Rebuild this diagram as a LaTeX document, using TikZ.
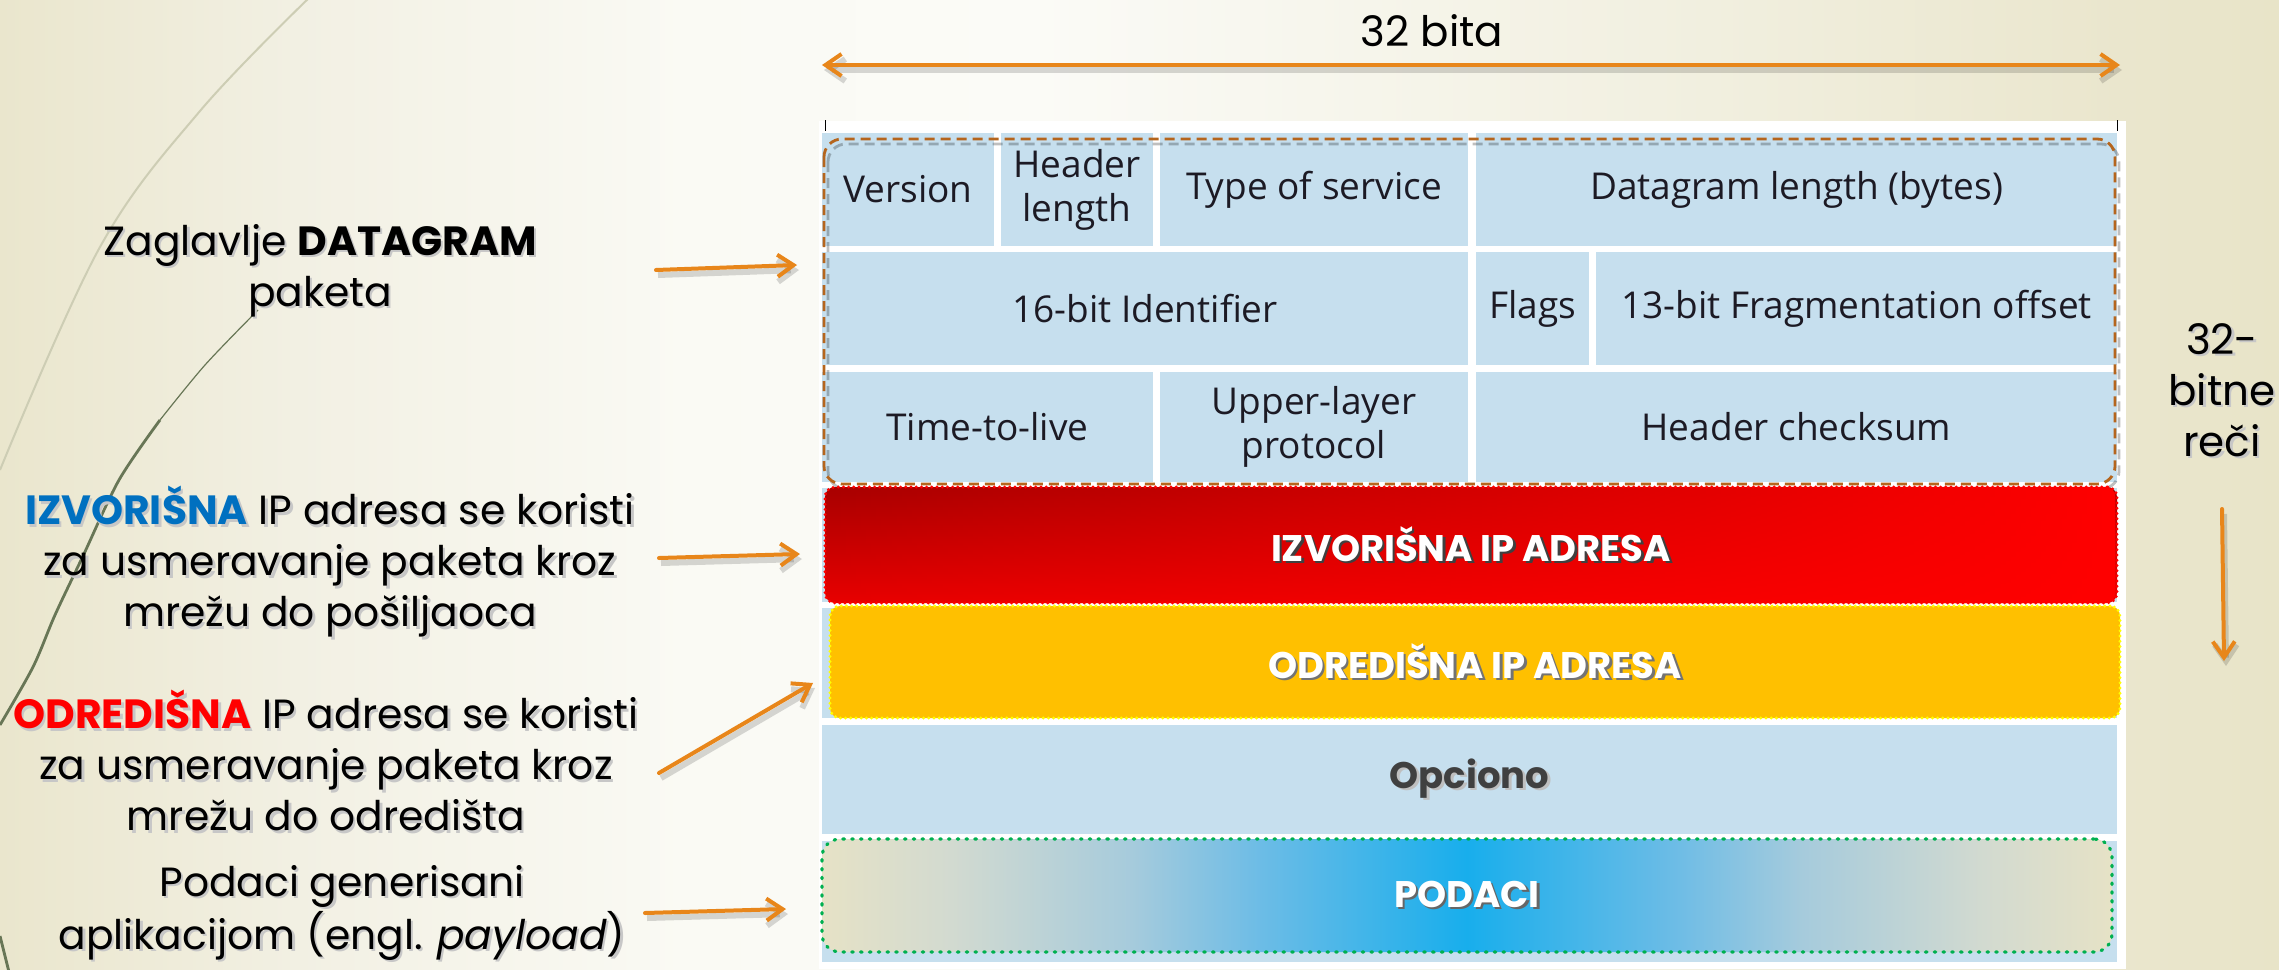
\documentclass[tikz,border=0pt]{standalone}
\usepackage{fontspec}
\setmainfont{Poppins}
\newfontfamily\cellfont{Open Sans}
\usetikzlibrary{arrows.meta,fadings}

% palette
\definecolor{bgA}{HTML}{E8E4C8}
\definecolor{bgE}{HTML}{EAE6CD}
\definecolor{bgB}{HTML}{F2F0E3}
\definecolor{bgC}{HTML}{FAFAF4}
\definecolor{bgW}{HTML}{FBFBF7}
\definecolor{bgD}{HTML}{F1EFDF}
\definecolor{cellblue}{HTML}{C6DFEE}
\definecolor{celltxt}{HTML}{1C1A24}
\definecolor{hdrdash}{HTML}{B5651D}
\definecolor{arrorange}{HTML}{E8861A}
\definecolor{redA}{HTML}{A80000}
\definecolor{redM}{HTML}{E80000}
\definecolor{redB}{HTML}{FF0000}
\definecolor{yelfill}{HTML}{FFC000}
\definecolor{yeldot}{HTML}{FFFF00}
\definecolor{greendot}{HTML}{00B050}
\definecolor{podedge}{HTML}{E6E2C6}
\definecolor{podsoft}{HTML}{D2DAD0}
\definecolor{podmid}{HTML}{A6CBDC}
\definecolor{podblue}{HTML}{6CBCE6}
\definecolor{podcore}{HTML}{18AEEC}
\definecolor{srcblue}{HTML}{0070C0}
\definecolor{dstred}{HTML}{FF0000}
\definecolor{optgray}{HTML}{404040}
\definecolor{curvedark}{HTML}{687656}
\definecolor{curvelight}{HTML}{CDCDB4}

\pgfdeclarehorizontalshading{slidebg}{100bp}{color(0bp)=(bgE); color(25bp)=(bgE);
  color(31.5bp)=(bgB); color(40bp)=(bgC); color(47.5bp)=(bgW); color(62.5bp)=(bgD);
  color(71.5bp)=(bgE); color(75bp)=(bgA); color(100bp)=(bgA)}
\pgfdeclarehorizontalshading{podshade}{100bp}{color(0bp)=(podedge); color(25bp)=(podedge);
  color(30bp)=(podsoft); color(37bp)=(podmid); color(42bp)=(podblue); color(50bp)=(podcore);
  color(58bp)=(podblue); color(63bp)=(podmid); color(70bp)=(podsoft); color(75bp)=(podedge);
  color(100bp)=(podedge)}

% coloured words; plain inside shadows
\newcommand\hl[2]{\textcolor{#1}{#2}}
\newcommand\hlplain[2]{#2}
% text with a soft offset shadow: #1 shadow colour, #2 offset, #3 text
\newcommand\shadowed[3]{\leavevmode\rlap{\kern#2\raisebox{-#2}{\let\hl\hlplain\textcolor{#1}{#3}}}#3}
\newcommand\ls[1]{\shadowed{black!22}{1.2pt}{#1}}

% a box node given by its corners (in picture units): #1 style, #2 name,
% #3 #4 top-left corner, #5 #6 bottom-right corner, #7 text
\newcommand\boxnode[7]{%
  \pgfmathsetmacro\bxw{(#5-#3)/2}%
  \pgfmathsetmacro\bxh{(#6-#4)/2}%
  \node[#1, minimum width=\bxw pt, minimum height=\bxh pt] (#2)
    at ({(#3+#5)/2},{(#4+#6)/2}) {#7};}

\tikzset{
  x=0.5pt, y=-0.5pt,
  barb/.tip={Straight Barb[length=8pt,width=11pt]},
  orangeline/.style={draw=arrorange, line width=2pt, line cap=round,
    preaction={draw=black, draw opacity=0.15, line width=3pt,
      transform canvas={shift={(1pt,-2.5pt)}}}},
  cellbox/.style={fill=cellblue, inner sep=0pt, outer sep=0pt, align=center,
    font=\cellfont\fontsize{18.5pt}{22pt}\selectfont, text=celltxt},
  lefttext/.style={align=center, font=\fontsize{20.4pt}{25.5pt}\selectfont, text=black},
  righttext/.style={align=center, font=\fontsize{21pt}{25.5pt}\selectfont, text=black},
  bandtitle/.style={inner sep=0pt, outer sep=0pt, align=center,
    font=\bfseries\fontsize{18.5pt}{22pt}\selectfont, text=white},
  dotborder/.style={line width=1.6pt, dash pattern=on 0pt off 2.6pt, line cap=round},
  hdrdashed/.style={line width=1.4pt, dash pattern=on 5pt off 3pt, rounded corners=9pt},
}

\begin{document}
\begin{tikzpicture}
\useasboundingbox (0,0) rectangle (2279,969);
% slide background
\shade[shading=slidebg] (0,0) rectangle (2279,969);

% decorative arcs on the left
\draw[curvelight, line width=1pt] plot[smooth, tension=0.6]
  coordinates {(312,-5) (200,111) (100,247) (0,470)};
\draw[curvedark, line width=0.6pt] plot[smooth]
  coordinates {(258,310) (205,365) (160,420)};
\draw[curvedark, line width=1.4pt] plot[smooth]
  coordinates {(160,420) (119,480) (83,556) (55,615) (33,667) (0,725)};
\draw[curvedark, line width=1.4pt] (0,936) -- (9,972);

% white panel with its corner ticks
\fill[white] (819,121) rectangle (2126,969);
\draw[black, line width=0.5pt] (825,120) -- (825,131);
\draw[black, line width=0.5pt] (2117,120) -- (2117,131);

% header words
\boxnode{cellbox}{ver}{822}{133}{994}{246}{Version}
\boxnode{cellbox}{hlen}{1001}{133}{1153}{246}{Header\\length}
\boxnode{cellbox}{tos}{1160}{133}{1468}{246}{Type of service}
\boxnode{cellbox}{dlen}{1476}{133}{2117}{246}{Datagram length (bytes)}
\boxnode{cellbox}{ident}{822}{252}{1468}{365}{16-bit Identifier}
\boxnode{cellbox}{flags}{1476}{252}{1589}{365}{Flags}
\boxnode{cellbox}{frag}{1596}{252}{2117}{365}{13-bit Fragmentation offset}
\boxnode{cellbox}{ttl}{822}{372}{1153}{482}{Time-to-live}
\boxnode{cellbox}{ulp}{1160}{372}{1468}{482}{Upper-layer\\protocol}
\boxnode{cellbox}{csum}{1476}{372}{2117}{482}{Header checksum}

% rows behind the coloured bands
\fill[cellblue] (822,488) rectangle (2117,602);
\fill[cellblue] (822,608) rectangle (2117,718);
\fill[cellblue] (822,841) rectangle (2117,962);

% dashed frame round the header
\draw[hdrdashed, black, draw opacity=0.25] (828,144) rectangle (2119,489);
\draw[hdrdashed, hdrdash] (824,139) rectangle (2115,484);

% source band: dark-to-bright red body, brightening towards the right
\shade[rounded corners=5pt, top color=redA, bottom color=redM]
  (825,487) rectangle (2117,603);
\fill[rounded corners=5pt, redB, path fading=west]
  (825,487) rectangle (2117,603);

% address bands, options and payload
\boxnode{bandtitle, rounded corners=5pt, draw=redB, dotborder}{src}{825}{487}{2117}{603}
  {\shadowed{black!75}{1.2pt}{IZVORIŠNA IP ADRESA}}
\boxnode{bandtitle, rounded corners=5pt, fill=yelfill, draw=yeldot, dotborder}
  {dst}{830}{606}{2120}{718}
  {\shadowed{black!55}{1.2pt}{ODREDIŠNA IP ADRESA}}
\boxnode{cellbox, font=\bfseries\fontsize{18.5pt}{22pt}\selectfont, text=optgray}
  {opt}{822}{725}{2117}{834}{\shadowed{black!25}{1.2pt}{Opciono}}
\boxnode{bandtitle, rounded corners=9pt, shading=podshade, draw=greendot,
  line width=1.6pt, dash pattern=on 0.8pt off 3.6pt, line cap=round}
  {data}{822}{839}{2112}{952}{\shadowed{black!60}{1.2pt}{PODACI}}

% width marker
\node[font=\fontsize{21pt}{25pt}\selectfont] (bits) at (1432,31) {32 bita};
\coordinate (wL) at (822,65);
\coordinate (wR) at (2120,65);
\draw[orangeline, barb-barb] (wL) -- (wR);

% word marker
\node[righttext] (words) at (2222,391) {\ls{32-}\\\ls{bitne}\\\ls{reči}};
\coordinate (dT) at (2222,509);
\coordinate (dB) at (2224,661);
\draw[orangeline, -barb] (dT) -- (dB);

% explanations on the left
\node[lefttext] (zag) at (320,272)
  {\ls{Zaglavlje \textbf{DATAGRAM}}\\\ls{paketa}};
\node[lefttext] (izv) at (330,563)
  {\ls{\hl{srcblue}{\textbf{IZVORIŠNA}} IP adresa se koristi}\\
   \ls{za usmeravanje paketa kroz}\\\ls{mrežu do pošiljaoca}};
\node[lefttext] (odr) at (326,762)
  {\ls{\hl{dstred}{\textbf{ODREDIŠNA}} IP adresa se koristi}\\
   \ls{za usmeravanje paketa kroz}\\\ls{mrežu do odredišta}};
\node[lefttext] (pod) at (342,914)
  {\ls{Podaci generisani}\\\ls{aplikacijom (engl. \textit{payload})}};

% pointers
\coordinate (zagS) at (656,270);  \coordinate (zagE) at (797,265);
\coordinate (izvS) at (659,558);  \coordinate (izvE) at (800,554);
\coordinate (odrS) at (659,773);  \coordinate (odrE) at (813,683);
\coordinate (podS) at (645,913);  \coordinate (podE) at (786,909);
\draw[orangeline, -barb] (zagS) -- (zagE);
\draw[orangeline, -barb] (izvS) -- (izvE);
\draw[orangeline, -barb] (odrS) -- (odrE);
\draw[orangeline, -barb] (podS) -- (podE);
\end{tikzpicture}
\end{document}
